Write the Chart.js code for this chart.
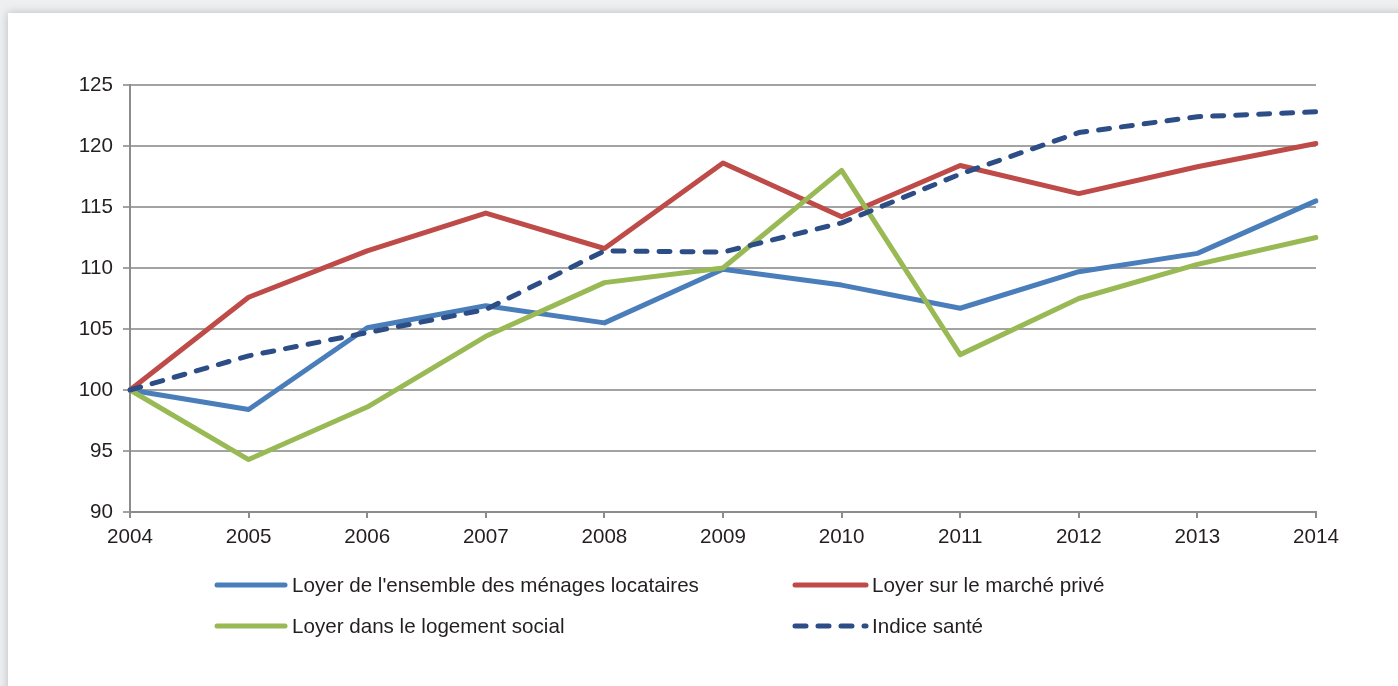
<!DOCTYPE html>
<html>
<head>
<meta charset="utf-8">
<script src="https://cdn.jsdelivr.net/npm/chart.js@4.4.0/dist/chart.umd.min.js"></script>
<style>
  html, body { margin: 0; padding: 0; width: 1398px; height: 686px; overflow: hidden; background: #eeeff0; }
  #card { position: absolute; left: 8px; top: 13px; width: 1420px; height: 720px; background: #fff; box-shadow: 0 0 9px rgba(0,0,0,0.22); }
  #wrap { position: absolute; left: 0; top: 0; width: 1398px; height: 686px; }
</style>
</head>
<body>
<div id="card"></div>
<div id="wrap"><canvas id="c" width="1398" height="686"></canvas></div>
<script>
const years = ['2004','2005','2006','2007','2008','2009','2010','2011','2012','2013','2014'];
const ensemble = [100, 98.4, 105.1, 106.9, 105.5, 109.9, 108.6, 106.7, 109.7, 111.2, 115.5];
const prive    = [100, 107.6, 111.4, 114.5, 111.6, 118.6, 114.2, 118.4, 116.1, 118.3, 120.2];
const social   = [100, 94.3, 98.6, 104.4, 108.8, 110.0, 118.0, 102.9, 107.5, 110.3, 112.5];
const sante    = [100, 102.8, 104.7, 106.6, 111.4, 111.3, 113.7, 117.7, 121.1, 122.4, 122.8];
const yTicks = [90, 95, 100, 105, 110, 115, 120, 125];

const FONT = '"Liberation Sans", Arial, Helvetica, sans-serif';
const TEXT = '#231f20';

const legendPlugin = {
  id: 'customLegend',
  afterDraw(chart) {
    const ctx = chart.ctx;
    const slots = [
      {x0: 217, x1: 285, tx: 292, y: 585},
      {x0: 795, x1: 866, tx: 872, y: 585},
      {x0: 217, x1: 285, tx: 292, y: 626},
      {x0: 795, x1: 866, tx: 872, y: 626}
    ];
    chart.data.datasets.forEach((ds, i) => {
      const s = slots[i];
      ctx.save();
      ctx.strokeStyle = ds.borderColor;
      ctx.lineWidth = 5;
      ctx.lineCap = 'round';
      ctx.setLineDash(ds.borderDash || []);
      ctx.beginPath();
      ctx.moveTo(s.x0, s.y);
      ctx.lineTo(s.x1, s.y);
      ctx.stroke();
      ctx.setLineDash([]);
      ctx.fillStyle = TEXT;
      ctx.font = '20.6px ' + FONT;
      ctx.textBaseline = 'middle';
      ctx.textAlign = 'left';
      ctx.fillText(ds.label, s.tx, s.y + 1);
      ctx.restore();
    });
  }
};

new Chart(document.getElementById('c'), {
  type: 'line',
  data: {
    labels: years,
    datasets: [
      {label: "Loyer de l'ensemble des ménages locataires", data: ensemble, borderColor: '#4a7ebb', order: 3},
      {label: 'Loyer sur le marché privé', data: prive, borderColor: '#be4b48', order: 2},
      {label: 'Loyer dans le logement social', data: social, borderColor: '#98b954', order: 1},
      {label: 'Indice santé', data: sante, borderColor: '#2c4d85', borderDash: [11, 12], order: 0}
    ].map(d => Object.assign({
      borderWidth: 5, pointRadius: 0, pointHoverRadius: 0, tension: 0, fill: false,
      borderCapStyle: 'round', borderJoinStyle: 'round'
    }, d))
  },
  options: {
    responsive: false,
    animation: false,
    events: [],
    layout: { padding: { top: 85, right: 82, bottom: 134, left: 0 } },
    plugins: { legend: { display: false }, tooltip: { enabled: false } },
    scales: {
      x: {
        type: 'category',
        offset: false,
        afterFit(s) { s.height = 40; },
        grid: { drawOnChartArea: false, drawTicks: true, tickLength: 6, color: '#8c8c8c', lineWidth: 2 },
        border: { display: true, color: '#8c8c8c', width: 2 },
        ticks: { color: TEXT, font: { family: FONT, size: 20.6 }, padding: 7, maxRotation: 0, autoSkip: false }
      },
      y: {
        min: 90, max: 125,
        afterFit(s) { s.width = 130; },
        afterBuildTicks(s) { s.ticks = yTicks.map(v => ({value: v})); },
        grid: { color: '#a3a3a3', lineWidth: 2, tickLength: 7, drawTicks: true },
        border: { display: true, color: '#8c8c8c', width: 2 },
        ticks: { color: TEXT, font: { family: FONT, size: 20.6 }, padding: 10 }
      }
    }
  },
  plugins: [legendPlugin]
});
</script>
</body>
</html>
